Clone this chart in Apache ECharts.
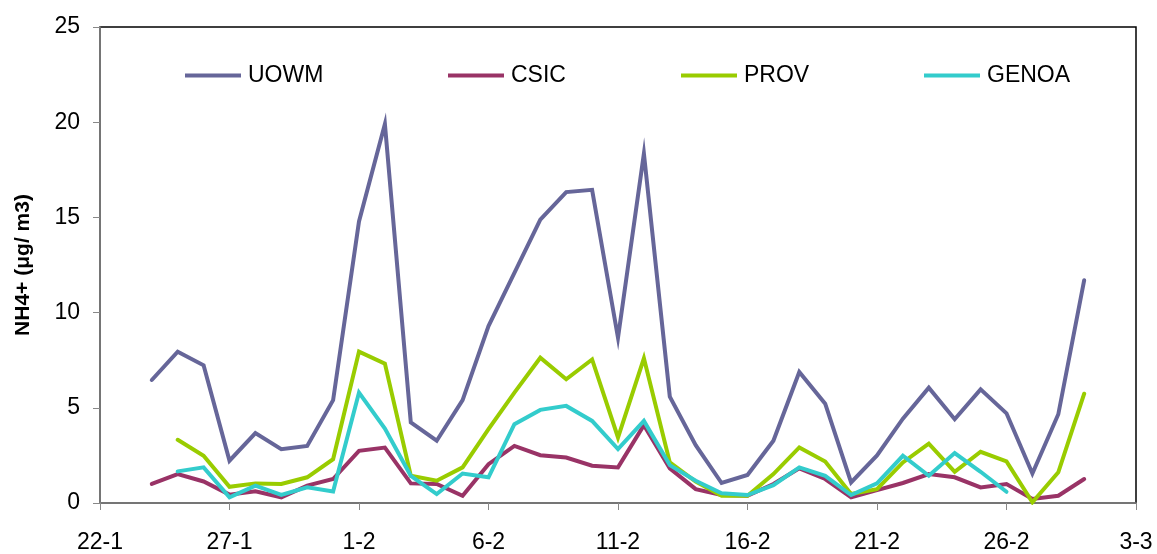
<!DOCTYPE html>
<html>
<head>
<meta charset="utf-8">
<script src="https://cdn.jsdelivr.net/npm/echarts@6/dist/echarts.min.js"></script>
<style>
  html, body { margin: 0; padding: 0; background: #fff; }
  #chart { width: 1157px; height: 554px; }
</style>
</head>
<body>
<div id="chart"></div>
<script>
// x-axis categories (daily, 22-1 .. 3-3)
const dates = ['22-1','23-1','24-1','25-1','26-1','27-1','28-1','29-1','30-1','31-1',
  '1-2','2-2','3-2','4-2','5-2','6-2','7-2','8-2','9-2','10-2','11-2','12-2','13-2','14-2',
  '15-2','16-2','17-2','18-2','19-2','20-2','21-2','22-2','23-2','24-2','25-2','26-2',
  '27-2','28-2','1-3','2-3','3-3'];
// measured days: 24-1 .. 1-3
const firstDay = '24-1';
const uowm  = [6.46,7.95,7.23,2.22,3.67,2.83,3.00,5.40,14.79,19.90,4.23,3.27,5.40,9.29,12.08,14.88,16.33,16.45,8.68,18.35,5.59,3.04,1.05,1.47,3.27,6.88,5.22,1.08,2.50,4.43,6.06,4.40,5.97,4.71,1.55,4.66,11.70];
const csic  = [1.00,1.52,1.13,0.44,0.61,0.30,0.91,1.26,2.74,2.91,1.03,1.00,0.38,2.04,3.00,2.51,2.39,1.96,1.87,4.09,1.82,0.73,0.42,0.38,1.00,1.82,1.26,0.30,0.68,1.05,1.52,1.35,0.82,1.00,0.21,0.38,1.26];
const prov  = [null,3.32,2.48,0.85,1.03,1.00,1.35,2.30,7.95,7.32,1.43,1.17,1.87,3.88,5.80,7.63,6.50,7.54,3.44,7.60,2.13,1.12,0.38,0.38,1.52,2.92,2.18,0.47,0.73,2.13,3.12,1.64,2.69,2.18,0.04,1.61,5.74];
const genoa = [null,1.66,1.87,0.30,0.91,0.42,0.82,0.61,5.80,3.91,1.43,0.47,1.55,1.35,4.14,4.89,5.10,4.31,2.83,4.31,1.99,1.17,0.51,0.42,0.94,1.87,1.43,0.42,1.03,2.48,1.43,2.62,1.64,0.59];
const yTicks = [0,5,10,15,20,25];
const seriesNames = ['UOWM','CSIC','PROV','GENOA'];
const seriesColors = ['#666699','#993366','#99CC00','#33CCCC'];

const start = dates.indexOf(firstDay);
function toData(vals) {
  return vals.map((v, i) => [dates[start + i], v]);
}
const allVals = [uowm, csic, prov, genoa];
const font = "'Liberation Sans', Arial, sans-serif";
const legendLefts = [185, 448, 681, 924];

const chart = echarts.init(document.getElementById('chart'), null, {renderer: 'canvas'});
chart.setOption({
  animation: false,
  backgroundColor: '#fff',
  grid: { left: 100, right: 21, top: 27, bottom: 50, show: true, borderColor: '#000', borderWidth: 1.5, backgroundColor: 'transparent' },
  legend: seriesNames.map((n, i) => ({
    data: [n], left: legendLefts[i], top: 64, padding: 0,
    icon: 'rect', itemWidth: 56, itemHeight: 4, itemGap: 0,
    textStyle: { fontFamily: font, fontSize: 23, color: '#000', padding: [0,0,0,2], letterSpacing: -0.5 },
    selectedMode: false
  })),
  xAxis: {
    type: 'category', data: dates, boundaryGap: false,
    axisLine: { show: true, lineStyle: { color: '#888', width: 1.5 } },
    axisTick: { show: true, length: 7, interval: (i) => i % 5 === 0, lineStyle: { color: '#888', width: 1 } },
    axisLabel: { interval: (i) => i % 5 === 0, fontFamily: font, fontSize: 23, color: '#000', margin: 28 },
    splitLine: { show: false }
  },
  yAxis: {
    type: 'value', min: yTicks[0], max: yTicks[yTicks.length - 1], interval: 5,
    name: 'NH4+ (μg/ m3)', nameLocation: 'middle', nameGap: 66,
    nameTextStyle: { fontFamily: font, fontSize: 21, fontWeight: 'bold', color: '#000' },
    axisLine: { show: true, lineStyle: { color: '#888', width: 1.5 } },
    axisTick: { show: true, length: 7, lineStyle: { color: '#888', width: 1 } },
    axisLabel: { fontFamily: font, fontSize: 23, color: '#000', margin: 20 },
    splitLine: { show: false }
  },
  series: seriesNames.map((n, i) => ({
    name: n, type: 'line', data: toData(allVals[i]), showSymbol: false, symbol: 'none',
    connectNulls: false, color: seriesColors[i],
    lineStyle: { width: 4, color: seriesColors[i], cap: 'round', join: 'miter' }
  }))
});
</script>
</body>
</html>
